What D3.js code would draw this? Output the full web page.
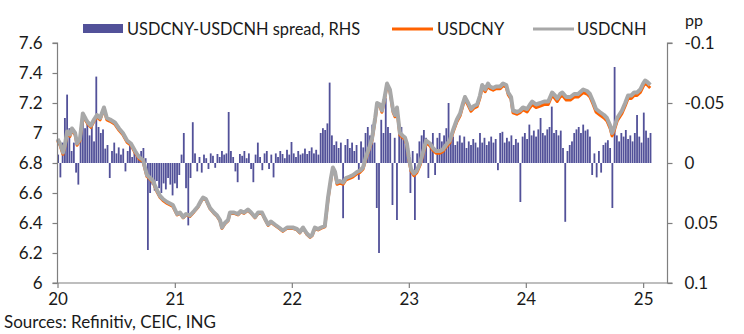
<!DOCTYPE html>
<html><head><meta charset="utf-8">
<script src="https://cdn.jsdelivr.net/npm/d3@7"></script>
<style>
html,body{margin:0;padding:0;background:#fff;}
svg{display:block;}
text{font-family:Lato, "Open Sans", sans-serif;fill:#1a1a1a;}
</style></head>
<body><svg id="chart" width="744" height="334"></svg>
<script>
// ---- data ----
const lineDates = ["2020-01-01","2020-01-09","2020-01-18","2020-01-24","2020-01-31","2020-02-09","2020-02-15","2020-02-25","2020-03-02","2020-03-11","2020-03-20","2020-03-30","2020-04-05","2020-04-14","2020-04-24","2020-05-03","2020-05-13","2020-05-25","2020-06-03","2020-06-13","2020-06-28","2020-07-11","2020-07-23","2020-08-05","2020-08-17","2020-08-30","2020-09-11","2020-09-24","2020-10-06","2020-10-16","2020-10-25","2020-11-06","2020-11-16","2020-11-25","2020-12-08","2020-12-17","2020-12-26",
"2021-01-08","2021-01-17","2021-01-27","2021-02-05","2021-02-17","2021-03-02","2021-03-14","2021-03-24","2021-03-30","2021-04-08","2021-04-21","2021-05-03","2021-05-13","2021-05-22","2021-05-28","2021-06-06","2021-06-16","2021-06-22","2021-07-05","2021-07-17","2021-07-26","2021-08-05","2021-08-17","2021-08-27","2021-09-08","2021-09-18","2021-09-30","2021-10-09","2021-10-19","2021-10-28","2021-11-09","2021-11-22","2021-12-04","2021-12-17","2021-12-26",
"2022-01-04","2022-01-17","2022-01-26","2022-02-05","2022-02-17","2022-02-27","2022-03-05","2022-03-14","2022-03-24","2022-04-02","2022-04-14","2022-04-24","2022-05-03","2022-05-09","2022-05-16","2022-05-22","2022-05-31","2022-06-10","2022-06-19","2022-07-01","2022-07-11","2022-07-23","2022-08-02","2022-08-11","2022-08-20","2022-08-30","2022-09-08","2022-09-18","2022-09-24","2022-10-03","2022-10-09","2022-10-16","2022-10-25","2022-11-03","2022-11-13","2022-11-19","2022-11-25","2022-12-04","2022-12-14","2022-12-20","2022-12-26",
"2023-01-01","2023-01-08","2023-01-17","2023-01-26","2023-02-05","2023-02-14","2023-02-24","2023-03-08","2023-03-17","2023-03-27","2023-04-08","2023-04-17","2023-04-27","2023-05-09","2023-05-19","2023-05-31","2023-06-10","2023-06-19","2023-06-25","2023-07-05","2023-07-14","2023-07-23","2023-08-02","2023-08-11","2023-08-18","2023-08-27","2023-09-05","2023-09-11","2023-09-21","2023-09-30","2023-10-13","2023-10-22","2023-11-01","2023-11-07","2023-11-16","2023-11-22","2023-12-05","2023-12-14","2023-12-23",
"2024-01-05","2024-01-14","2024-01-21","2024-02-02","2024-02-15","2024-02-27","2024-03-11","2024-03-23","2024-04-01","2024-04-08","2024-04-17","2024-04-24","2024-05-06","2024-05-19","2024-05-31","2024-06-12","2024-06-28","2024-07-10","2024-07-19","2024-07-29","2024-08-07","2024-08-19","2024-09-01","2024-09-10","2024-09-20","2024-09-26","2024-10-02","2024-10-12","2024-10-21","2024-10-27","2024-11-06","2024-11-15","2024-11-25","2024-12-04","2024-12-13","2024-12-23",
"2025-01-01","2025-01-07","2025-01-14","2025-01-23"];

const usdcnh = [6.96,6.93,6.87,6.92,7.01,6.99,7.03,7.00,6.93,6.96,7.13,7.09,7.07,7.05,7.09,7.12,7.10,7.17,7.10,7.09,7.07,7.03,7.00,6.95,6.93,6.88,6.84,6.82,6.72,6.70,6.68,6.62,6.58,6.56,6.54,6.53,6.52,
6.46,6.47,6.44,6.46,6.45,6.48,6.51,6.55,6.57,6.56,6.50,6.47,6.45,6.42,6.37,6.40,6.42,6.47,6.47,6.46,6.48,6.47,6.49,6.47,6.44,6.47,6.47,6.43,6.39,6.41,6.39,6.37,6.35,6.37,6.37,
6.37,6.36,6.34,6.37,6.33,6.31,6.32,6.37,6.36,6.37,6.38,6.57,6.70,6.77,6.74,6.67,6.68,6.67,6.70,6.71,6.72,6.74,6.75,6.77,6.84,6.90,6.96,7.10,7.20,7.19,7.15,7.22,7.33,7.29,7.15,7.12,7.17,7.00,6.98,6.97,6.93,
6.84,6.76,6.73,6.75,6.80,6.87,6.95,6.93,6.90,6.88,6.88,6.89,6.92,6.95,7.02,7.09,7.13,7.20,7.24,7.20,7.16,7.18,7.19,7.25,7.32,7.29,7.33,7.31,7.30,7.31,7.31,7.33,7.32,7.27,7.24,7.15,7.14,7.15,7.17,
7.16,7.19,7.21,7.19,7.20,7.21,7.21,7.27,7.25,7.23,7.26,7.27,7.24,7.24,7.26,7.26,7.29,7.28,7.26,7.21,7.16,7.14,7.12,7.10,7.05,7.00,7.03,7.10,7.13,7.15,7.20,7.25,7.25,7.27,7.27,7.29,
7.33,7.35,7.34,7.32];

const usdcny = [6.948,6.918,6.858,6.908,6.998,6.978,7.018,6.988,6.918,6.948,7.118,7.078,7.058,7.038,7.078,7.108,7.088,7.158,7.088,7.078,7.058,7.018,6.988,6.938,6.918,6.868,6.828,6.808,6.71,6.69,6.67,6.61,6.57,6.55,6.53,6.52,6.51,
6.454,6.464,6.434,6.454,6.444,6.474,6.504,6.544,6.564,6.554,6.494,6.464,6.444,6.414,6.364,6.394,6.414,6.464,6.464,6.454,6.474,6.464,6.484,6.464,6.434,6.464,6.464,6.424,6.384,6.404,6.384,6.364,6.344,6.364,6.364,
6.364,6.354,6.334,6.364,6.324,6.304,6.314,6.364,6.354,6.364,6.374,6.558,6.688,6.758,6.728,6.658,6.668,6.658,6.688,6.698,6.708,6.728,6.738,6.758,6.828,6.888,6.948,7.088,7.188,7.178,7.138,7.208,7.318,7.278,7.138,7.108,7.158,6.988,6.968,6.958,6.918,
6.825,6.745,6.715,6.735,6.785,6.855,6.935,6.915,6.885,6.865,6.865,6.875,6.905,6.935,7.005,7.075,7.115,7.185,7.225,7.185,7.145,7.165,7.175,7.235,7.305,7.275,7.315,7.295,7.285,7.295,7.295,7.315,7.305,7.255,7.225,7.135,7.125,7.135,7.155,
7.14,7.17,7.19,7.17,7.18,7.19,7.19,7.25,7.23,7.21,7.24,7.25,7.22,7.22,7.24,7.24,7.27,7.26,7.24,7.19,7.14,7.12,7.10,7.08,7.03,6.98,7.01,7.08,7.11,7.13,7.18,7.23,7.23,7.25,7.25,7.27,
7.31,7.33,7.32,7.30];

// weekly spread USDCNY-USDCNH (pp), first week 2020-01-03
const spreadStart = "2020-01-03";
const spread = [-0.007,0.012,-0.017,-0.0375,-0.057,-0.029,-0.01,-0.017,0.008,0.018,
-0.021,-0.0425,-0.029,-0.033,-0.023,-0.032,-0.018,-0.072,-0.03,-0.025,
-0.028,-0.012,-0.015,0.0125,-0.01,-0.017,-0.008,-0.013,-0.007,-0.012,
0.007,-0.01,-0.015,-0.005,-0.012,-0.008,-0.007,-0.01,-0.0125,-0.004,
0.0725,0.025,0.018,0.023,0.015,0.021,0.025,0.017,0.022,0.0125,
0.018,0.027,0.017,0.021,0.01,-0.007,-0.025,0.021,0.052,0.0125,
-0.034,-0.008,0.007,-0.005,0.008,-0.007,-0.004,0.005,-0.008,-0.006,
0.004,-0.0075,-0.005,-0.01,-0.007,-0.008,-0.0425,-0.01,-0.005,0.007,
0.016,-0.0075,-0.006,-0.01,-0.004,-0.008,0.005,0.016,-0.007,-0.017,
-0.005,0.006,-0.008,-0.01,0.005,-0.007,0.012,-0.008,-0.005,-0.01,
-0.0075,-0.004,-0.011,-0.007,-0.0175,-0.008,-0.005,-0.01,-0.007,-0.008,
-0.012,-0.0075,-0.01,-0.013,-0.008,-0.011,-0.007,-0.025,-0.029,-0.0275,
-0.033,-0.067,-0.023,-0.015,-0.018,-0.0125,-0.017,0.046,-0.015,-0.02,
-0.0125,-0.017,-0.01,-0.015,0.014,-0.018,-0.013,-0.025,-0.03,-0.023,
-0.032,-0.017,0.0375,0.075,-0.036,-0.025,-0.054,-0.03,-0.025,0.035,
-0.021,0.0475,-0.025,-0.03,-0.023,-0.017,-0.0125,0.025,-0.01,0.0475,
-0.008,-0.018,-0.023,-0.0275,-0.021,0.0125,-0.017,-0.025,0.01,-0.021,
-0.025,-0.018,-0.023,-0.029,-0.05,-0.02,-0.022,-0.015,-0.018,-0.023,
-0.017,-0.022,-0.0125,-0.018,-0.015,-0.02,-0.017,-0.013,-0.025,-0.017,
-0.021,-0.015,-0.018,-0.022,-0.017,-0.02,0.006,-0.025,-0.026,-0.017,
-0.021,-0.018,-0.023,-0.015,-0.02,-0.017,0.0325,-0.022,-0.025,-0.02,
-0.032,-0.023,-0.027,-0.022,-0.028,-0.0375,-0.025,-0.023,-0.028,-0.03,
-0.047,-0.025,-0.0275,-0.023,-0.027,-0.0125,0.049,-0.01,-0.015,-0.018,
-0.025,-0.028,-0.03,-0.025,-0.032,-0.027,-0.028,-0.022,0.01,-0.008,
0.012,-0.01,0.008,-0.015,-0.017,-0.019,-0.0125,0.0375,-0.08,-0.023,
-0.018,-0.025,-0.022,-0.0275,-0.02,-0.023,-0.018,-0.025,-0.04,-0.022,
-0.017,-0.042,-0.027,-0.021,-0.025];

const leftTicks = [6, 6.2, 6.4, 6.6, 6.8, 7, 7.2, 7.4, 7.6];
const rightTicks = [-0.1, -0.05, 0, 0.05, 0.1];
const rightTickLabels = ["-0.1", "-0.05", "0", "0.05", "0.1"];
const yearTicks = ["2020-01-01","2021-01-01","2022-01-01","2023-01-01","2024-01-01","2025-01-01"];
const legendLabels = ["USDCNY-USDCNH spread, RHS", "USDCNY", "USDCNH"];
const colors = {spread: "#525199", cny: "#ff6200", cnh: "#a8a8a8", axis: "#7f7f7f"};

// ---- chart ----
const parse = d3.utcParse("%Y-%m-%d");
const svg = d3.select("#chart");
const L = 57.5, R = 667.5, T = 43, B = 283;
const FONT = "Lato, 'Open Sans', sans-serif";

const x = d3.scaleUtc().domain([parse("2020-01-01"), parse("2025-03-18")]).range([L, R]);
const yL = d3.scaleLinear().domain([6, 7.6]).range([B, T]);
const yR = d3.scaleLinear().domain([0.1, -0.1]).range([B, T]);

const s0 = parse(spreadStart);
const bars = spread.map((v, i) => ({d: d3.utcDay.offset(s0, 7 * i), v}));
svg.append("g").selectAll("rect").data(bars).join("rect")
  .attr("x", d => x(d.d) - 0.9)
  .attr("width", 1.8)
  .attr("y", d => Math.min(yR(d.v), yR(0)))
  .attr("height", d => Math.abs(yR(d.v) - yR(0)))
  .attr("fill", colors.spread);

const pts = lineDates.map((d, i) => ({d: parse(d), cny: usdcny[i], cnh: usdcnh[i]}));
svg.append("path").datum(pts)
  .attr("fill", "none").attr("stroke", colors.cny).attr("stroke-width", 3).attr("stroke-linejoin", "round")
  .attr("d", d3.line().x(d => x(d.d)).y(d => yL(d.cny)));
svg.append("path").datum(pts)
  .attr("fill", "none").attr("stroke", colors.cnh).attr("stroke-width", 4).attr("stroke-linejoin", "round")
  .attr("d", d3.line().x(d => x(d.d)).y(d => yL(d.cnh)));

// axes
const fmtL = d3.format("");
const gl = svg.append("g").attr("transform", `translate(${L},0)`)
  .call(d3.axisLeft(yL).tickValues(leftTicks).tickSize(5).tickPadding(10).tickFormat(d => fmtL(d)));
const gr = svg.append("g").attr("transform", `translate(${R},0)`)
  .call(d3.axisRight(yR).tickValues(rightTicks).tickSize(5).tickPadding(12).tickFormat((d, i) => rightTickLabels[i]));
const gb = svg.append("g").attr("transform", `translate(0,${B})`)
  .call(d3.axisBottom(x).tickValues(yearTicks.map(parse)).tickSize(5).tickPadding(5).tickFormat(d3.utcFormat("%y")));
[gl, gr, gb].forEach(g => {
  g.select(".domain").attr("stroke", colors.axis).attr("stroke-width", 1.2);
  g.selectAll(".tick line").attr("stroke", colors.axis).attr("stroke-width", 1.2);
  g.selectAll("text").attr("font-family", FONT).attr("font-size", 17).attr("fill", "#1a1a1a");
});
gl.select(".domain").attr("d", `M-5,${T}H0V${B}H-5`);
gr.select(".domain").attr("d", `M5,${T}H0V${B}H5`);
gb.select(".domain").attr("d", `M${L},0H${R}`);

svg.append("text").attr("x", 685).attr("y", 20).attr("dy", "0.35em").attr("font-size", 16).text("pp");

// legend
const lg = svg.append("g");
lg.append("rect").attr("x", 83).attr("y", 24).attr("width", 40).attr("height", 9).attr("fill", colors.spread);
lg.append("text").attr("x", 127).attr("y", 29).attr("dy", "0.35em").attr("font-size", 16.4).text(legendLabels[0]);
lg.append("line").attr("x1", 392).attr("x2", 433).attr("y1", 29).attr("y2", 29).attr("stroke", colors.cny).attr("stroke-width", 3);
lg.append("text").attr("x", 437).attr("y", 29).attr("dy", "0.35em").attr("font-size", 16.4).text(legendLabels[1]);
lg.append("line").attr("x1", 533).attr("x2", 574).attr("y1", 29).attr("y2", 29).attr("stroke", colors.cnh).attr("stroke-width", 3);
lg.append("text").attr("x", 577).attr("y", 29).attr("dy", "0.35em").attr("font-size", 16.4).text(legendLabels[2]);

svg.append("text").attr("x", 4).attr("y", 322).attr("dy", "0.35em").attr("font-size", 17).text("Sources: Refinitiv, CEIC, ING");
</script></body></html>
